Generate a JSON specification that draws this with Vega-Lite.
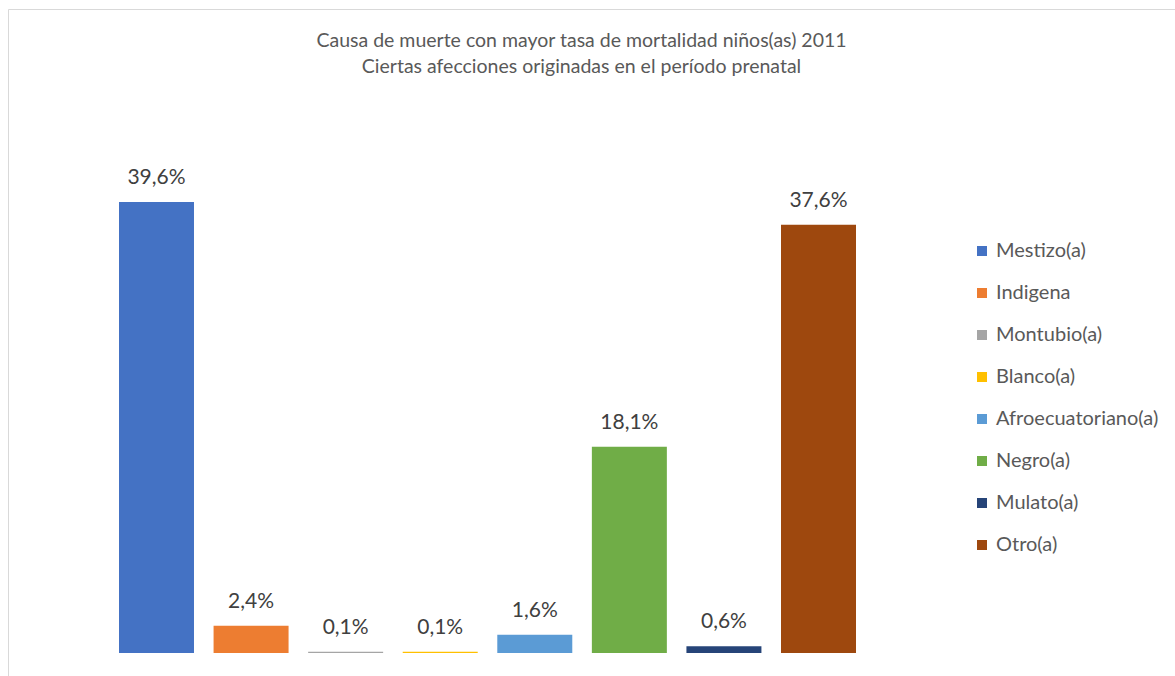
{
  "$schema": "https://vega.github.io/schema/vega-lite/v6.json",
  "width": 1167,
  "height": 667,
  "autosize": {"type": "none"},
  "padding": {"left": 8, "top": 9, "right": 0, "bottom": 0},
  "background": "#ffffff",
  "title": {
    "text": ["Causa de muerte con mayor tasa de mortalidad niños(as) 2011", "Ciertas afecciones originadas en el período prenatal"],
    "font": "Lato",
    "fontSize": 19.5,
    "fontWeight": "normal",
    "color": "#595959",
    "lineHeight": 26,
    "anchor": "middle",
    "baseline": "top",
    "offset": 0,
    "dx": -10,
    "dy": 68
  },
  "data": {
    "values": [
      {"grupo": "Mestizo(a)", "tasa": 0.396},
      {"grupo": "Indigena", "tasa": 0.024},
      {"grupo": "Montubio(a)", "tasa": 0.001},
      {"grupo": "Blanco(a)", "tasa": 0.001},
      {"grupo": "Afroecuatoriano(a)", "tasa": 0.016},
      {"grupo": "Negro(a)", "tasa": 0.181},
      {"grupo": "Mulato(a)", "tasa": 0.006},
      {"grupo": "Otro(a)", "tasa": 0.376}
    ]
  },
  "encoding": {
    "x": {
      "field": "grupo",
      "type": "nominal",
      "sort": null,
      "axis": null,
      "scale": {"range": [111, 848], "paddingInner": 0.207, "paddingOuter": 0}
    },
    "y": {
      "field": "tasa",
      "type": "quantitative",
      "axis": null,
      "scale": {"domain": [-0.0202, 0.5654], "nice": false, "zero": false}
    }
  },
  "layer": [
    {
      "mark": {"type": "bar"},
      "encoding": {
        "color": {
          "field": "grupo",
          "type": "nominal",
          "sort": null,
          "scale": {
            "domain": ["Mestizo(a)", "Indigena", "Montubio(a)", "Blanco(a)", "Afroecuatoriano(a)", "Negro(a)", "Mulato(a)", "Otro(a)"],
            "range": ["#4472C4", "#ED7D31", "#A5A5A5", "#FFC000", "#5B9BD5", "#70AD47", "#264478", "#9E480E"]
          },
          "legend": {
            "orient": "none",
            "legendX": 964,
            "legendY": 232,
            "title": null,
            "padding": 0,
            "symbolType": "square",
            "symbolSize": 100,
            "symbolStrokeWidth": 0,
            "labelFont": "Lato",
            "labelFontSize": 20,
            "labelColor": "#595959",
            "labelOffset": 4,
            "rowPadding": 22,
            "labelLimit": 300
          }
        }
      }
    },
    {
      "mark": {"type": "text", "baseline": "alphabetic", "dy": -18, "font": "Lato", "fontSize": 21, "color": "#404040"},
      "encoding": {
        "text": {"field": "tasa", "type": "quantitative", "format": ".1%"}
      }
    }
  ],
  "config": {
    "view": {"stroke": "#d9d9d9", "strokeWidth": 1},
    "locale": {"number": {"decimal": ",", "thousands": ".", "grouping": [3], "currency": ["", " €"]}}
  }
}
